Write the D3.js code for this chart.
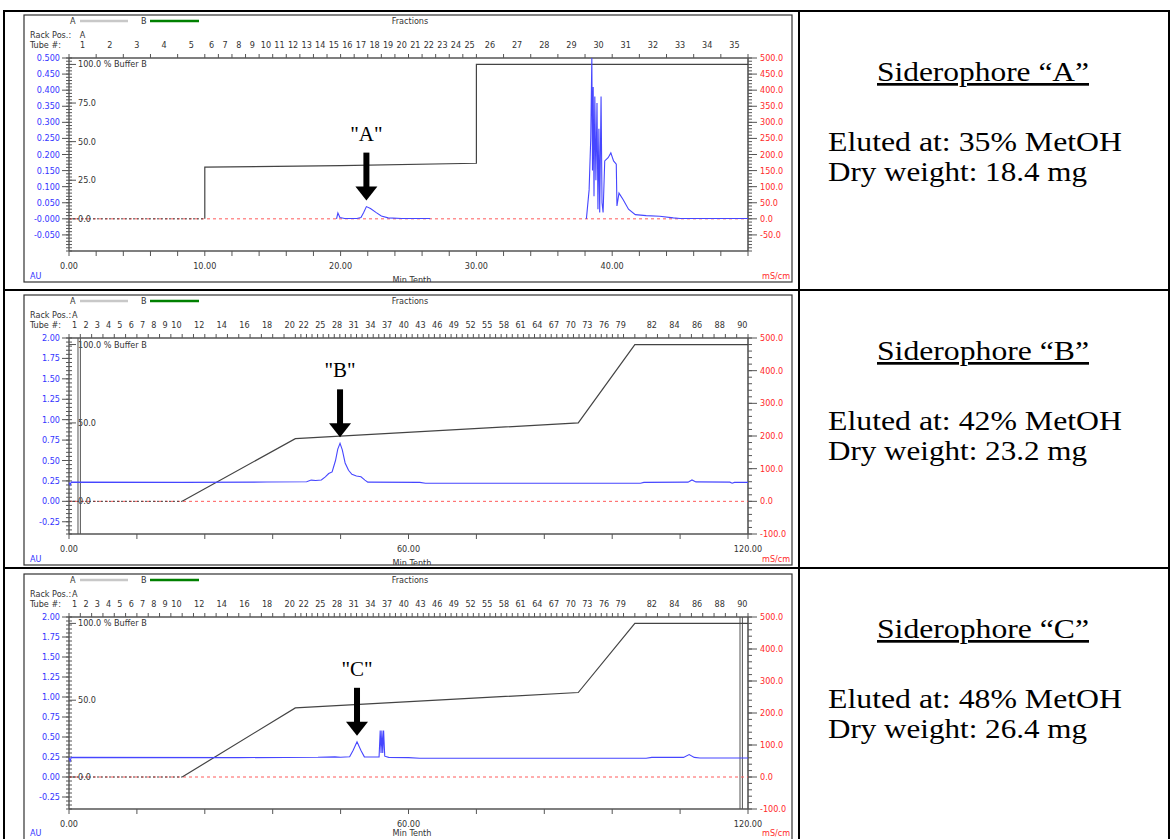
<!DOCTYPE html>
<head>
  <meta charset="utf-8">
  <script src="https://d3js.org/d3.v7.min.js"></script>
  <style>
    body { margin:0; background:#fff; }
    .sm { font-family:"Liberation Sans Narrow","DejaVu Sans Condensed",sans-serif; font-size:9px; }
    .serif { font-family:"Liberation Serif","Times New Roman",serif; }
  </style>
</head>
<body>
<script>
  // ---- panel A data (x = Min Tenth) ----
  var gradA = [[0,0],[10,0],[10,33.5],[20,34.5],[30,36],[30,100],[50,100]];
  var uvA = [[19.7,0],[19.8,0.018],[19.95,0.004],[20.3,0.001],[21.2,0.001],[21.5,0.004],[21.7,0.02],[21.9,0.038],[22.2,0.032],[22.6,0.02],[23.0,0.009],[23.5,0.003],[24.5,0.001],[26.6,0.001],
    null,
    [38.1,0],[38.3,0.09],[38.42,0.25],[38.5,0.5],[38.55,0.15],[38.6,0.41],[38.66,0.07],[38.72,0.38],[38.8,0.12],[38.88,0.36],[38.95,0.03],[39.02,0.28],[39.08,0.02],[39.18,0.38],[39.25,0.05],[39.33,0.02],[39.45,0.18],[39.7,0.19],[39.9,0.205],[40.1,0.18],[40.3,0.17],[40.35,0.04],[40.5,0.08],[40.8,0.06],[41.2,0.03],[41.7,0.013],[42.5,0.01],[43.5,0.008],[44.5,0.003],[45,0.001],[50,0.001]];
  var condA = [[0,0],[50,0]];
  var fracA = [[1,5,0,10],[6,25,10,30],[26,35,30,50]];
  var tubesA = [1,2,3,4,5,6,7,8,9,10,11,12,13,14,15,16,17,18,19,20,21,22,23,24,25,26,27,28,29,30,31,32,33,34,35];
  var leftTicksA = [0.5,0.45,0.4,0.35,0.3,0.25,0.2,0.15,0.1,0.05,0,-0.05];
  var leftLabelsA = ["0.500","0.450","0.400","0.350","0.300","0.250","0.200","0.150","0.100","0.050","-0.000","-0.050"];
  var rightTicksA = [500,450,400,350,300,250,200,150,100,50,0,-50];
  var gradTicksA = [100,75,50,25,0];
  var xLabelsA = [0,10,20,30,40];

  // ---- panel B data ----
  var gradB = [[0,0],[20,0],[40,40],[90,50],[100,100],[120,100]];
  var uvB = [[0,0.23],[0.2,0.2],[0.4,0.235],[20,0.232],[35,0.236],[42,0.24],[42.8,0.26],[43.6,0.255],[44.6,0.262],[45.3,0.3],[45.9,0.34],[46.5,0.36],[47.1,0.5],[47.5,0.64],[47.9,0.71],[48.3,0.63],[48.8,0.47],[49.4,0.38],[50.0,0.33],[50.8,0.31],[51.6,0.3],[52.3,0.26],[52.8,0.235],[62,0.232],[63,0.222],[101,0.222],[101.6,0.232],[109.4,0.235],[110.1,0.262],[110.8,0.238],[116.8,0.235],[117.2,0.222],[117.6,0.232],[120,0.232]];
  var condB = [[0,0],[120,0]];
  var markerB = 1.8;

  // ---- panel C data ----
  var gradC = [[0,0],[20,0],[40,45],[90,55],[100,100],[120,100]];
  var uvC = [[0,0.24],[0.2,0.2],[0.4,0.245],[30,0.242],[44,0.246],[47,0.252],[48,0.246],[49.6,0.252],[50.2,0.33],[50.9,0.44],[51.6,0.33],[52.2,0.252],[54.8,0.25],[55.0,0.58],[55.15,0.3],[55.3,0.58],[55.45,0.3],[55.6,0.58],[55.8,0.26],[56.5,0.245],[60,0.242],[62,0.235],[102,0.235],[103,0.245],[108.6,0.245],[109.6,0.28],[110.5,0.245],[111.5,0.238],[120,0.238]];
  var condC = [[0,0],[120,0]];
  var markerC = 118.8;

  // shared for B and C
  var fracBC = [[1,20,0,40],[21,79,40,98],[80,90,98,120]];
  var tubesBC = [1,2,3,4,5,6,7,8,9,10,12,14,16,18,20,22,25,28,31,34,37,40,43,46,49,52,55,58,61,64,67,70,73,76,79,82,84,86,88,90];
  var leftTicksBC = [2,1.75,1.5,1.25,1,0.75,0.5,0.25,0,-0.25];
  var leftLabelsBC = ["2.00","1.75","1.50","1.25","1.00","0.75","0.50","0.25","0.00","-0.25"];
  var rightTicksBC = [500,400,300,200,100,0,-100];
  var gradTicksBC = [100,50,0];
  var xLabelsBC = [0,60,120];

  // annotations: label, x of peak, peak AU
  var peakLabels = ['"A"','"B"','"C"'];
  var peakX = [21.9, 47.9, 50.9];
  var peakY = [0.038, 0.71, 0.44];

  // right column text
  var names = ["Siderophore \u201cA\u201d","Siderophore \u201cB\u201d","Siderophore \u201cC\u201d"];
  var eluted = ["35%","42%","48%"];
  var dryWeight = ["18.4","23.2","26.4"];

  var W = 1172, H = 839;
  var X0 = 69, X1 = 748, FX0 = 24, FX1 = 792;
  var rowTops = [11, 290, 568];

  var svg = d3.select("body").append("svg")
    .attr("width", W).attr("height", H);

  var panels = [
    {xMax:50, left:[-0.1,0.5], leftMinor:0.01, leftTicks:leftTicksA, leftLabels:leftLabelsA,
     right:[-100,500], rightMinor:10, rightTicks:rightTicksA, xStep:2, xLabels:xLabelsA,
     grad:gradA, uv:uvA, cond:condA, frac:fracA, tubes:tubesA, gradTicks:gradTicksA, marker:null, top:58, h:193},
    {xMax:120, left:[-0.4,2.0], leftMinor:0.05, leftTicks:leftTicksBC, leftLabels:leftLabelsBC,
     right:[-100,500], rightMinor:20, rightTicks:rightTicksBC, xStep:12, xLabels:xLabelsBC,
     grad:gradB, uv:uvB, cond:condB, frac:fracBC, tubes:tubesBC, gradTicks:gradTicksBC, marker:markerB, top:338, h:196},
    {xMax:120, left:[-0.4,2.0], leftMinor:0.05, leftTicks:leftTicksBC, leftLabels:leftLabelsBC,
     right:[-100,500], rightMinor:20, rightTicks:rightTicksBC, xStep:12, xLabels:xLabelsBC,
     grad:gradC, uv:uvC, cond:condC, frac:fracBC, tubes:tubesBC, gradTicks:gradTicksBC, marker:markerC, top:617, h:192}
  ];

  function fractions(segs) {
    var out = [];
    segs.forEach(function(s) {
      var n = s[1] - s[0] + 1, w = (s[3] - s[2]) / n;
      for (var i = 0; i < n; i++) out.push({tube: s[0] + i, x0: s[2] + i * w, x1: s[2] + (i + 1) * w});
    });
    return out;
  }

  function steps(a, b, st) {
    var n = Math.round((b - a) / st), r = [];
    for (var i = 0; i <= n; i++) r.push(a + i * st);
    return r;
  }

  panels.forEach(function(p, k) {
    var bottom = p.top + p.h;
    var ftop = p.top - 43, fbot = bottom + 31;
    var x = d3.scaleLinear().domain([0, p.xMax]).range([X0, X1]);
    var yL = d3.scaleLinear().domain(p.left).range([bottom, p.top]);
    var yR = d3.scaleLinear().domain(p.right).range([bottom, p.top]);
    var yG = d3.scaleLinear().domain([0, 100]).range([yL(0), yL(0) - 0.8 * p.h]);

    svg.append("clipPath").attr("id", "clip" + k)
      .append("rect").attr("x", FX0).attr("y", ftop).attr("width", FX1 - FX0).attr("height", fbot - ftop);
    var g = svg.append("g").attr("clip-path", "url(#clip" + k + ")");

    // header: legend
    g.append("text").attr("class","sm").attr("x", 70).attr("y", ftop + 9).attr("fill","#333").text("A");
    g.append("line").attr("x1",80).attr("x2",128).attr("y1",ftop+6).attr("y2",ftop+6).attr("stroke","#c8c8c8").attr("stroke-width",2.5);
    g.append("text").attr("class","sm").attr("x", 141).attr("y", ftop + 9).attr("fill","#333").text("B");
    g.append("line").attr("x1",150).attr("x2",199).attr("y1",ftop+6).attr("y2",ftop+6).attr("stroke","#008000").attr("stroke-width",2.5);
    g.append("text").attr("class","sm").attr("x", 410).attr("y", ftop + 9).attr("text-anchor","middle").attr("fill","#333").text("Fractions");

    var fr = fractions(p.frac);
    g.append("text").attr("class","sm").attr("x", 30).attr("y", p.top - 20).attr("fill","#333").text("Rack Pos.:");
    g.append("text").attr("class","sm").attr("x", x((fr[0].x0 + fr[0].x1) / 2)).attr("y", p.top - 20).attr("text-anchor","middle").attr("fill","#333").text("A");
    g.append("text").attr("class","sm").attr("x", 30).attr("y", p.top - 10).attr("fill","#333").text("Tube #:");

    g.selectAll(".tube").data(fr.filter(function(f) { return p.tubes.indexOf(f.tube) >= 0; }))
      .enter().append("text").attr("class","sm")
      .attr("x", function(f) { return x((f.x0 + f.x1) / 2); })
      .attr("y", p.top - 10).attr("text-anchor","middle").attr("fill","#333")
      .text(function(f) { return f.tube; });

    // top fraction axis
    g.append("line").attr("x1",X0).attr("x2",X1).attr("y1",p.top).attr("y2",p.top).attr("stroke","#555").attr("stroke-width",1.6);
    g.selectAll(".ft").data(fr.map(function(f) { return f.x0; }).concat([p.xMax]))
      .enter().append("line")
      .attr("x1", function(d) { return x(d); }).attr("x2", function(d) { return x(d); })
      .attr("y1", p.top).attr("y2", p.top - 4).attr("stroke","#555");

    // left axis
    g.append("line").attr("x1",X0).attr("x2",X0).attr("y1",p.top).attr("y2",bottom).attr("stroke","#555").attr("stroke-width",1.4);
    g.selectAll(".lmin").data(steps(p.left[0], p.left[1], p.leftMinor)).enter().append("line")
      .attr("x1", X0 - 3).attr("x2", X0 + 3)
      .attr("y1", function(d) { return yL(d); }).attr("y2", function(d) { return yL(d); }).attr("stroke","#555");
    g.selectAll(".lmaj").data(p.leftTicks).enter().append("line")
      .attr("x1", X0 - 7).attr("x2", X0)
      .attr("y1", function(d) { return yL(d); }).attr("y2", function(d) { return yL(d); }).attr("stroke","#555");
    g.selectAll(".llab").data(p.leftTicks).enter().append("text").attr("class","sm")
      .attr("x", X0 - 9).attr("y", function(d) { return yL(d) + 3; })
      .attr("text-anchor","end").attr("fill","#3434ff")
      .text(function(d, i) { return p.leftLabels[i]; });

    // gradient scale labels
    g.selectAll(".gt").data(p.gradTicks).enter().append("line")
      .attr("x1", X0).attr("x2", X0 + 7)
      .attr("y1", function(d) { return yG(d); }).attr("y2", function(d) { return yG(d); }).attr("stroke","#555");
    g.selectAll(".gl").data(p.gradTicks).enter().append("text").attr("class","sm")
      .attr("x", X0 + 9).attr("y", function(d) { return yG(d) + 3; }).attr("fill","#333")
      .text(function(d) { return d === 100 ? "100.0  % Buffer B" : d.toFixed(1); });

    // right axis
    g.append("line").attr("x1",X1).attr("x2",X1).attr("y1",p.top).attr("y2",bottom).attr("stroke","#555").attr("stroke-width",1.6);
    g.selectAll(".rmin").data(steps(p.right[0], p.right[1], p.rightMinor)).enter().append("line")
      .attr("x1", X1).attr("x2", X1 + 4)
      .attr("y1", function(d) { return yR(d); }).attr("y2", function(d) { return yR(d); }).attr("stroke","#555");
    g.selectAll(".rmaj").data(p.rightTicks).enter().append("line")
      .attr("x1", X1).attr("x2", X1 + 9)
      .attr("y1", function(d) { return yR(d); }).attr("y2", function(d) { return yR(d); }).attr("stroke","#555");
    g.selectAll(".rlab").data(p.rightTicks).enter().append("text").attr("class","sm")
      .attr("x", X1 + 12).attr("y", function(d) { return yR(d) + 3; }).attr("fill","#ff2a2a")
      .text(function(d) { return d.toFixed(1); });

    // bottom axis
    g.append("line").attr("x1",X0).attr("x2",X1).attr("y1",bottom).attr("y2",bottom).attr("stroke","#555").attr("stroke-width",1.6);
    g.selectAll(".bt").data(steps(0, p.xMax, p.xStep)).enter().append("line")
      .attr("x1", function(d) { return x(d); }).attr("x2", function(d) { return x(d); })
      .attr("y1", bottom).attr("y2", bottom + 5).attr("stroke","#555");
    g.selectAll(".bl").data(p.xLabels).enter().append("text").attr("class","sm")
      .attr("x", function(d) { return x(d); }).attr("y", bottom + 18)
      .attr("text-anchor","middle").attr("fill","#333")
      .text(function(d) { return d.toFixed(2); });
    g.append("text").attr("class","sm").attr("x", 412).attr("y", Math.min(fbot + 1, H - 3)).attr("text-anchor","middle").attr("fill","#333").text("Min Tenth");
    g.append("text").attr("class","sm").attr("x", 30).attr("y", Math.min(fbot - 3, H - 3)).attr("fill","#3434ff").text("AU");
    g.append("text").attr("class","sm").attr("x", 762).attr("y", Math.min(fbot - 3, H - 3)).attr("fill","#ff2a2a").text("mS/cm");

    // position marker
    if (p.marker !== null) {
      [-1.2, 1.2].forEach(function(o) {
        g.append("line").attr("x1", x(p.marker) + o).attr("x2", x(p.marker) + o)
          .attr("y1", p.top).attr("y2", bottom).attr("stroke","#555");
      });
    }

    // conductivity
    var line = d3.line().defined(function(d) { return d !== null; })
      .x(function(d) { return x(d[0]); });
    g.append("path").attr("d", line.y(function(d) { return yR(d[1]); })(p.cond))
      .attr("fill","none").attr("stroke","#ff5a5a").attr("stroke-dasharray","3,3");

    // gradient: leading zero part dashed
    var firstUp = p.grad.findIndex(function(d) { return d[1] > 0; });
    var gl = d3.line().x(function(d) { return x(d[0]); }).y(function(d) { return yG(d[1]); });
    g.append("path").attr("d", gl(p.grad.slice(0, firstUp)))
      .attr("fill","none").attr("stroke","#444").attr("stroke-dasharray","2,2");
    g.append("path").attr("d", gl(p.grad.slice(firstUp - 1)))
      .attr("fill","none").attr("stroke","#444").attr("stroke-width",1.2);

    // UV
    g.append("path").attr("d", line.y(function(d) { return yL(d[1]); })(p.uv))
      .attr("fill","none").attr("stroke","#4646ff").attr("stroke-width",1.1);

    // frame
    svg.append("rect").attr("x",FX0).attr("y",ftop).attr("width",FX1-FX0).attr("height",fbot-ftop)
      .attr("fill","none").attr("stroke","#333").attr("stroke-width",1.2);

    // peak arrow
    var ax = x(peakX[k]), tip = yL(peakY[k]) - 6, shaftTop = tip - 48;
    svg.append("rect").attr("x", ax - 3).attr("y", shaftTop).attr("width", 6).attr("height", 36).attr("fill","#000");
    svg.append("path").attr("d", "M" + (ax - 11) + "," + (tip - 14) + "L" + (ax + 11) + "," + (tip - 14) + "L" + ax + "," + tip + "Z").attr("fill","#000");
    svg.append("text").attr("class","serif").attr("x", ax).attr("y", shaftTop - 12)
      .attr("text-anchor","middle").attr("font-size", 21).text(peakLabels[k]);

    // right column
    var rt = rowTops[k];
    svg.append("text").attr("class","serif").attr("x", 877).attr("y", rt + 70)
      .attr("font-size", 27).attr("text-decoration","underline")
      .attr("textLength", 212).attr("lengthAdjust","spacingAndGlyphs").text(names[k]);
    svg.append("text").attr("class","serif").attr("x", 828).attr("y", rt + 140).attr("font-size", 27)
      .attr("textLength", 294).attr("lengthAdjust","spacingAndGlyphs")
      .text("Eluted at: " + eluted[k] + " MetOH");
    svg.append("text").attr("class","serif").attr("x", 828).attr("y", rt + 170).attr("font-size", 27)
      .attr("textLength", 259).attr("lengthAdjust","spacingAndGlyphs")
      .text("Dry weight: " + dryWeight[k] + " mg");
  });

  // table grid
  var tl = svg.append("g").attr("stroke","#000").attr("stroke-width",2);
  tl.append("line").attr("x1",3).attr("x2",1170).attr("y1",rowTops[0]).attr("y2",rowTops[0]);
  tl.append("line").attr("x1",3).attr("x2",1170).attr("y1",rowTops[1]).attr("y2",rowTops[1]);
  tl.append("line").attr("x1",3).attr("x2",1170).attr("y1",rowTops[2]).attr("y2",rowTops[2]);
  tl.append("line").attr("x1",4).attr("x2",4).attr("y1",rowTops[0]).attr("y2",H);
  tl.append("line").attr("x1",799).attr("x2",799).attr("y1",rowTops[0]).attr("y2",H);
  tl.append("line").attr("x1",1169).attr("x2",1169).attr("y1",rowTops[0]).attr("y2",H);
</script>
</body>
